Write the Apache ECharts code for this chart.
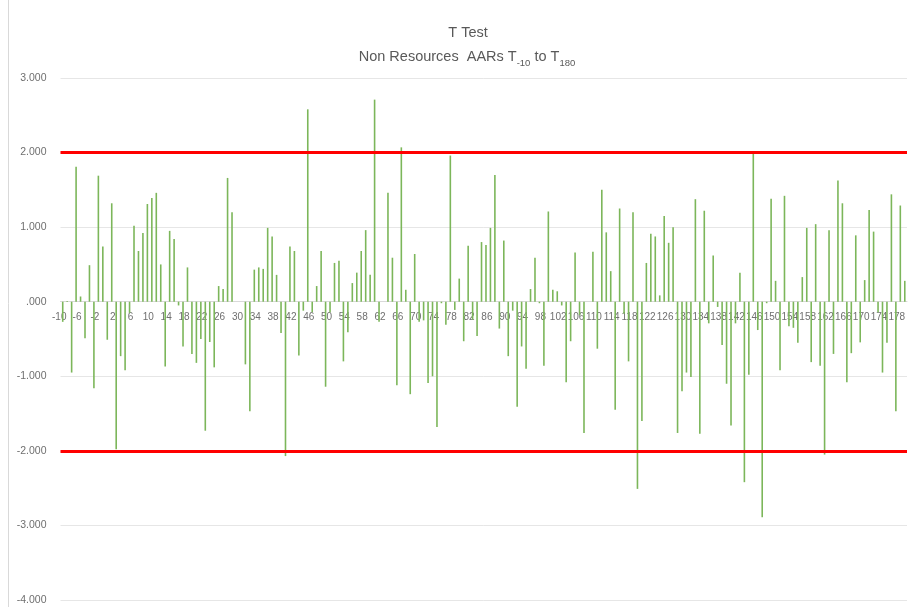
<!DOCTYPE html>
<html>
<head>
<meta charset="utf-8">
<script src="https://cdn.jsdelivr.net/npm/echarts@6/dist/echarts.min.js"></script>
<style>
html,body{margin:0;padding:0;background:#fff;}
#chart{width:915px;height:607px;}
</style>
</head>
<body>
<div id="chart"></div>
<script>
// Event days T-10 .. T179
var firstDay = -10;
var lastDay = 179;
var days = [];
for (var d = firstDay; d <= lastDay; d++) days.push(String(d));

// T statistics of non-resources AARs
var tValues = [
  -0.27, 0.01, -0.95, 1.81, 0.07, -0.49, 0.49, -1.16, 1.69, 0.74,
  -0.51, 1.32, -1.98, -0.73, -0.92, -0.15, 1.02, 0.68, 0.92, 1.31,
  1.39, 1.46, 0.50, -0.87, 0.95, 0.84, -0.05, -0.60, 0.46, -0.70,
  -0.82, -0.50, -1.73, -0.54, -0.88, 0.21, 0.17, 1.66, 1.20, 0.00,
  0.00, -0.84, -1.47, 0.43, 0.46, 0.44, 0.99, 0.875, 0.36, -0.42,
  -2.07, 0.74, 0.68, -0.72, -0.12, 2.58, -0.14, 0.21, 0.68, -1.14,
  -0.14, 0.52, 0.55, -0.80, -0.41, 0.25, 0.39, 0.68, 0.96, 0.36,
  2.71, -0.27, 0.00, 1.46, 0.59, -1.12, 2.07, 0.16, -1.24, 0.64,
  -0.27, -0.25, -1.09, -1.00, -1.68, -0.02, -0.31, 1.96, -0.11, 0.31,
  -0.53, 0.75, -0.24, -0.46, 0.80, 0.76, 0.99, 1.70, -0.36, 0.82,
  -0.73, -0.12, -1.41, -0.60, -0.90, 0.17, 0.59, -0.02, -0.86, 1.21,
  0.16, 0.14, -0.05, -1.08, -0.53, 0.66, -0.18, -1.76, 0.00, 0.67,
  -0.63, 1.50, 0.93, 0.41, -1.45, 1.25, -0.16, -0.80, 1.20, -2.51,
  -1.60, 0.52, 0.91, 0.875, 0.085, 1.15, 0.79, 1.00, -1.76, -1.20,
  -0.95, -1.01, 1.375, -1.77, 1.22, -0.29, 0.62, -0.07, -0.58, -1.10,
  -1.66, -0.29, 0.39, -2.42, -0.98, 2.02, -0.38, -2.89, -0.02, 1.38,
  0.28, -0.92, 1.42, -0.33, -0.35, -0.55, 0.33, 0.99, -0.81, 1.04,
  -0.86, -2.05, 0.96, -0.70, 1.625, 1.32, -1.08, -0.69, 0.89, -0.545,
  0.29, 1.23, 0.94, -0.14, -0.95, -0.55, 1.44, -1.47, 1.29, 0.28
];

// Critical values
var thresholds = [2, -2];

// Y axis range
var yMin = -4, yMax = 3, yStep = 1;

// Show every 4th day label
var labelEvery = 4;

var gridTop = 78, gridBottom = 7, chartH = 607;
var gridH = chartH - gridTop - gridBottom;
var zeroOffset = -gridH * (0 - yMin) / (yMax - yMin);

var chart = echarts.init(document.getElementById('chart'), null, {renderer: 'canvas'});
var fontFam = '"Liberation Sans", "DejaVu Sans", sans-serif';
var option = {
  backgroundColor: '#ffffff',
  animation: false,
  graphic: [
    {
      type: 'line',
      shape: {x1: 8.5, y1: 0, x2: 8.5, y2: 607},
      style: {stroke: '#d9d9d9', lineWidth: 1},
      silent: true
    },
    {
      type: 'text',
      x: 468, y: 25,
      style: {
        text: 'T Test',
        fill: '#595959',
        font: '14.5px ' + fontFam,
        align: 'center'
      }
    },
    {
      type: 'text',
      x: 467, y: 44,
      style: {
        text: '{a|Non Resources  AARs T}{s|-10}{a| to T}{s|180}',
        align: 'center',
        fill: '#595959',
        rich: {
          a: {fontSize: 14.5, fontFamily: fontFam, fill: '#595959', lineHeight: 20, verticalAlign: 'bottom'},
          s: {fontSize: 9.5, fontFamily: fontFam, fill: '#595959', lineHeight: 14, verticalAlign: 'bottom', padding: [0, 0, -4, 0]}
        }
      }
    }
  ],
  grid: {left: 60.5, right: 8, top: gridTop, bottom: gridBottom, containLabel: false, outerBoundsMode: 'none'},
  xAxis: {
    type: 'category',
    data: days,
    position: 'bottom',
    offset: zeroOffset,
    axisLine: {onZero: false, lineStyle: {color: '#d9d9d9', width: 1}},
    axisTick: {show: false},
    axisLabel: {
      interval: 0,
      hideOverlap: false,
      showMinLabel: true,
      showMaxLabel: true,
      color: '#6f6f6f',
      fontSize: 10,
      fontFamily: fontFam,
      margin: 11,
      padding: [0, 7, 0, 0],
      formatter: function (v, i) {
        return (i % labelEvery === 0) ? v : '';
      }
    },
    splitLine: {show: false}
  },
  yAxis: {
    type: 'value',
    min: yMin,
    max: yMax,
    interval: yStep,
    axisLine: {show: false},
    axisTick: {show: false},
    axisLabel: {
      color: '#6f6f6f',
      fontSize: 10.5,
      fontFamily: fontFam,
      margin: 14,
      formatter: function (v) {
        var s = v.toFixed(3);
        return s.replace(/^(-?)0\./, '$1.');
      }
    },
    splitLine: {lineStyle: {color: '#e6e6e6', width: 1}}
  },
  series: [
    {
      type: 'bar',
      data: tValues,
      barWidth: 1.6,
      itemStyle: {color: '#7cb65a'},
      silent: true,
      markLine: {
        silent: true,
        symbol: ['none', 'none'],
        label: {show: false},
        lineStyle: {color: '#ff0000', width: 3, type: 'solid'},
        data: thresholds.map(function (t) { return {yAxis: t}; })
      }
    }
  ]
};
chart.setOption(option);
</script>
</body>
</html>
